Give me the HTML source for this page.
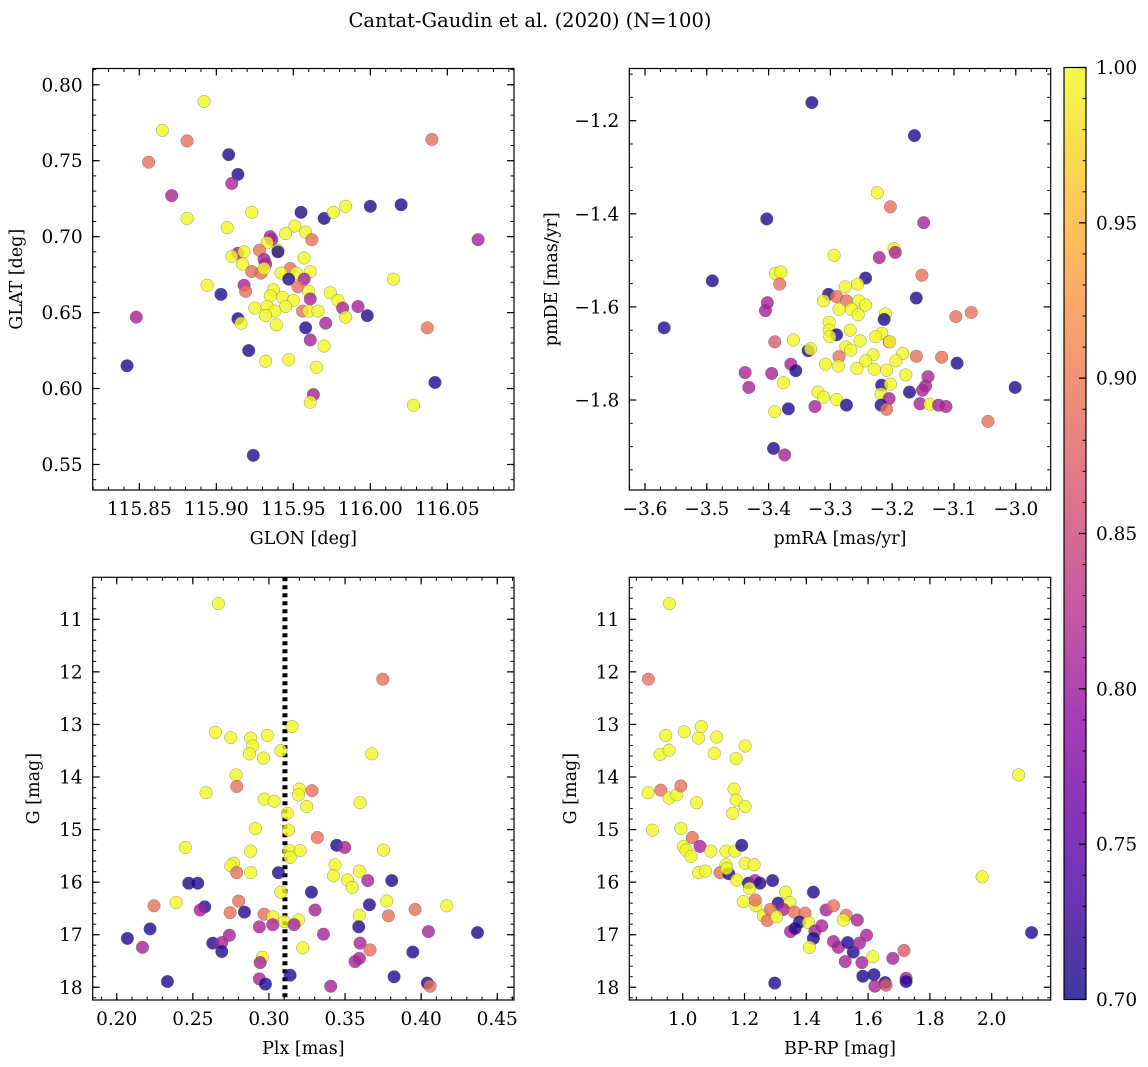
<!DOCTYPE html>
<html><head><meta charset="utf-8"><style>
html,body{margin:0;padding:0;background:#fff;}
svg{display:block;font-family:"DejaVu Serif","Liberation Serif",serif;}
</style></head><body>
<svg id="fig" width="1148" height="1067" viewBox="0 0 1148 1067" xmlns="http://www.w3.org/2000/svg">
<defs>
<linearGradient id="plasma" x1="0" y1="1" x2="0" y2="0">
<stop offset="0" stop-color="#0d0887"/><stop offset="0.1" stop-color="#41049d"/><stop offset="0.2" stop-color="#6a00a8"/><stop offset="0.3" stop-color="#8f0da4"/><stop offset="0.4" stop-color="#b12a90"/><stop offset="0.5" stop-color="#cc4778"/><stop offset="0.6" stop-color="#e16462"/><stop offset="0.7" stop-color="#f2844b"/><stop offset="0.8" stop-color="#fca636"/><stop offset="0.9" stop-color="#fcce25"/><stop offset="1" stop-color="#f0f921"/>
</linearGradient>
</defs>
<text x="530" y="27" font-size="19.5" text-anchor="middle">Cantat-Gaudin et al. (2020) (N=100)</text>
</svg>
<script>
// ---- Panel 1: GLON vs GLAT ----
const glon = [115.892,115.865,115.881,115.856,115.908,115.914,115.910,115.871,116.040,115.923,115.881,115.907,115.955,115.970,115.976,115.984,116.000,116.020,116.070,115.951,115.958,115.962,115.945,115.935,115.936,115.933,115.928,115.940,115.940,115.914,115.918,115.910,115.957,115.931,115.932,115.917,115.923,115.929,115.931,115.948,115.942,115.952,115.961,115.947,115.957,115.953,115.894,115.918,115.919,115.903,115.960,115.961,115.974,115.979,115.982,115.984,115.992,115.998,116.015,115.937,115.935,115.943,115.950,115.945,115.933,115.938,115.925,115.932,115.939,115.956,115.960,115.966,115.914,115.916,115.958,115.971,115.961,115.970,115.921,115.932,115.947,115.965,115.848,115.842,116.037,116.042,116.028,115.963,115.961,115.924];
const glat = [0.789,0.770,0.763,0.749,0.754,0.741,0.735,0.727,0.764,0.716,0.712,0.706,0.716,0.712,0.716,0.720,0.720,0.721,0.698,0.707,0.703,0.698,0.702,0.700,0.698,0.696,0.691,0.691,0.690,0.689,0.690,0.687,0.686,0.685,0.682,0.682,0.677,0.676,0.679,0.679,0.676,0.676,0.677,0.672,0.672,0.667,0.668,0.668,0.664,0.662,0.664,0.659,0.663,0.658,0.653,0.647,0.654,0.648,0.672,0.665,0.661,0.660,0.658,0.654,0.654,0.651,0.653,0.648,0.642,0.651,0.651,0.651,0.646,0.643,0.640,0.643,0.632,0.628,0.625,0.618,0.619,0.614,0.647,0.615,0.640,0.604,0.589,0.596,0.591,0.556];
const prob1 = [1,1,0.89,0.89,0.71,0.71,0.81,0.81,0.89,1,1,1,0.71,0.71,1,1,0.71,0.71,0.81,1,1,0.89,1,0.81,0.81,1,0.89,1,0.71,0.81,1,1,1,0.81,0.81,1,0.89,0.89,1,0.89,1,1,1,0.71,0.81,0.89,1,0.81,0.89,0.71,1,0.81,1,1,0.81,1,0.81,0.71,1,1,1,1,1,1,1,1,1,1,1,0.89,1,1,0.71,1,0.71,0.81,0.81,1,0.71,1,1,1,0.81,0.71,0.89,0.71,1,0.81,1,0.71];

// ---- Panel 2: pmRA vs pmDE ----
const pmra = [-3.330,-3.164,-3.224,-3.203,-3.149,-3.403,-3.197,-3.195,-3.221,-3.294,-3.152,-3.491,-3.389,-3.380,-3.382,-3.243,-3.256,-3.276,-3.161,-3.569,-3.402,-3.405,-3.303,-3.311,-3.290,-3.274,-3.254,-3.243,-3.286,-3.266,-3.255,-3.302,-3.302,-3.290,-3.301,-3.268,-3.252,-3.275,-3.267,-3.211,-3.213,-3.097,-3.072,-3.217,-3.227,-3.205,-3.204,-3.390,-3.360,-3.336,-3.332,-3.286,-3.231,-3.243,-3.183,-3.194,-3.161,-3.120,-3.095,-3.308,-3.287,-3.257,-3.229,-3.209,-3.178,-3.364,-3.356,-3.438,-3.395,-3.376,-3.432,-3.217,-3.203,-3.142,-3.146,-3.151,-3.001,-3.172,-3.320,-3.311,-3.290,-3.218,-3.205,-3.274,-3.218,-3.209,-3.325,-3.368,-3.390,-3.155,-3.139,-3.125,-3.113,-3.045,-3.392,-3.374];
const pmde = [-1.161,-1.232,-1.355,-1.385,-1.419,-1.411,-1.475,-1.483,-1.494,-1.489,-1.532,-1.544,-1.528,-1.525,-1.551,-1.538,-1.551,-1.557,-1.581,-1.645,-1.591,-1.608,-1.573,-1.587,-1.578,-1.587,-1.587,-1.596,-1.605,-1.605,-1.617,-1.633,-1.650,-1.660,-1.664,-1.650,-1.673,-1.686,-1.693,-1.615,-1.627,-1.621,-1.612,-1.657,-1.664,-1.675,-1.675,-1.675,-1.671,-1.694,-1.690,-1.707,-1.703,-1.716,-1.700,-1.716,-1.706,-1.708,-1.721,-1.723,-1.727,-1.732,-1.734,-1.736,-1.746,-1.723,-1.737,-1.741,-1.743,-1.763,-1.773,-1.768,-1.766,-1.750,-1.770,-1.779,-1.773,-1.783,-1.783,-1.794,-1.799,-1.787,-1.797,-1.811,-1.811,-1.820,-1.814,-1.819,-1.825,-1.808,-1.809,-1.811,-1.814,-1.846,-1.904,-1.918];
const prob2 = [0.71,0.71,1,0.89,0.81,0.71,1,0.81,0.81,1,0.89,0.71,1,1,0.89,0.71,1,1,0.71,0.71,0.81,0.81,0.71,1,0.89,0.89,1,1,1,1,1,1,1,0.71,1,1,1,1,1,1,0.71,0.89,0.89,1,1,0.89,1,0.87,1,0.71,1,0.89,1,1,1,1,0.89,0.89,0.71,1,1,1,1,1,1,0.81,0.71,0.81,0.81,1,0.81,0.71,1,0.81,0.81,0.81,0.71,0.71,1,1,1,1,0.81,0.71,0.71,0.89,0.81,0.71,1,0.81,1,0.81,0.81,0.89,0.71,0.81];

// ---- Panel 3: Plx vs G ----
const plx = [0.2668,0.3748,0.3152,0.2648,0.2749,0.2880,0.2990,0.2893,0.2872,0.2964,0.3078,0.3675,0.2784,0.2788,0.2587,0.3200,0.3194,0.3283,0.2968,0.3034,0.3248,0.3599,0.3121,0.3128,0.2911,0.3318,0.2451,0.2880,0.3134,0.3205,0.3139,0.3445,0.3498,0.3752,0.2767,0.2749,0.2788,0.2880,0.3062,0.3434,0.3424,0.3594,0.3516,0.3547,0.3649,0.3807,0.2473,0.2532,0.3078,0.3279,0.2390,0.2245,0.2578,0.2548,0.2801,0.2745,0.2839,0.2968,0.3025,0.3102,0.3194,0.3165,0.3025,0.2937,0.3660,0.3303,0.3774,0.3785,0.3960,0.4168,0.3594,0.3590,0.4048,0.4370,0.2219,0.2070,0.2169,0.2631,0.2690,0.2740,0.2690,0.3358,0.3599,0.3664,0.3222,0.3945,0.2957,0.2942,0.3566,0.3594,0.2333,0.2937,0.2977,0.3139,0.3406,0.3822,0.4041,0.4059];
const gmag3 = [10.70,12.14,13.04,13.15,13.25,13.26,13.21,13.41,13.56,13.64,13.50,13.56,13.96,14.18,14.30,14.23,14.34,14.26,14.42,14.46,14.56,14.49,14.69,15.01,14.98,15.15,15.34,15.41,15.40,15.40,15.53,15.30,15.34,15.39,15.64,15.69,15.82,15.82,15.82,15.67,15.88,15.79,15.96,16.10,15.97,15.97,16.02,16.02,16.19,16.19,16.39,16.45,16.47,16.53,16.36,16.58,16.57,16.61,16.66,16.75,16.72,16.81,16.81,16.85,16.43,16.53,16.36,16.64,16.52,16.45,16.63,16.85,16.94,16.96,16.89,17.07,17.24,17.16,17.15,17.01,17.32,16.99,17.16,17.29,17.25,17.33,17.43,17.53,17.51,17.45,17.89,17.84,17.94,17.77,17.98,17.80,17.92,17.98];
const prob3 = [1,0.89,1,1,1,1,1,1,1,1,1,1,1,0.89,1,1,1,0.89,1,1,1,1,1,1,1,0.89,1,1,1,1,1,0.71,0.81,1,1,1,0.89,1,0.71,1,1,1,1,1,0.81,0.71,0.71,0.71,1,0.71,1,0.89,0.71,0.81,0.89,0.89,0.71,0.89,1,1,1,0.81,0.81,0.81,0.71,0.81,1,0.89,0.89,1,1,0.71,0.81,0.71,0.71,0.71,0.81,0.71,0.81,0.81,0.71,0.81,0.81,0.89,1,0.71,1,0.81,0.81,0.81,0.71,0.81,0.71,0.71,0.81,0.71,0.71,0.89];

// ---- Panel 4: BP-RP vs G ----
const bprp = [0.957,0.889,0.945,0.927,0.956,1.005,1.051,1.060,1.110,1.102,1.173,1.202,2.087,0.888,0.929,0.956,0.981,0.994,1.045,1.166,1.173,1.202,1.162,0.902,0.994,1.031,1.056,1.002,1.011,1.027,1.091,1.140,1.169,1.191,1.202,1.231,1.140,1.121,1.149,1.142,1.051,1.074,1.969,1.175,1.213,1.234,1.250,1.291,1.216,1.423,1.333,1.196,1.237,1.235,1.309,1.347,1.261,1.274,1.283,1.326,1.361,1.396,1.304,1.378,1.407,1.349,1.364,1.428,1.423,1.450,1.464,1.488,1.529,1.520,1.565,1.595,1.410,1.488,1.504,1.534,1.552,1.572,1.526,1.580,1.615,1.680,1.716,1.583,1.619,1.655,1.622,1.658,1.723,1.723,1.298,2.129];
const gmag4 = [10.70,12.14,13.21,13.57,13.49,13.14,13.26,13.04,13.24,13.55,13.65,13.41,13.96,14.30,14.25,14.40,14.34,14.17,14.49,14.23,14.44,14.56,14.69,15.01,14.98,15.15,15.32,15.32,15.39,15.51,15.41,15.41,15.41,15.30,15.64,15.67,15.67,15.82,15.84,15.74,15.82,15.79,15.90,15.96,16.02,15.97,16.02,15.97,16.12,16.19,16.19,16.37,16.45,16.34,16.40,16.39,16.64,16.73,16.52,16.52,16.57,16.59,16.66,16.76,16.77,16.94,16.88,16.93,17.07,16.83,16.53,16.45,16.63,16.72,16.72,17.01,17.24,17.13,17.24,17.15,17.33,17.16,17.51,17.53,17.42,17.45,17.30,17.79,17.76,17.91,17.98,17.96,17.83,17.89,17.92,16.96];
const prob4 = [1,0.89,1,1,1,1,1,1,1,1,1,1,1,1,0.89,1,1,0.89,1,1,1,1,1,1,1,0.89,0.81,1,1,1,1,1,1,0.71,1,1,1,0.89,0.71,1,1,1,1,1,0.71,0.81,0.71,0.71,1,0.71,1,1,1,0.89,0.71,1,1,0.89,0.89,0.81,0.89,0.89,1,0.71,1,0.81,0.71,0.81,0.71,0.81,0.81,0.89,0.89,1,0.81,0.81,1,0.81,0.81,0.71,0.71,0.81,0.81,0.81,1,0.81,0.87,0.71,0.71,0.71,0.81,0.87,0.81,0.71,0.71,0.71];

const cbTicks = [0.70,0.75,0.80,0.85,0.90,0.95,1.00];

const NS = "http://www.w3.org/2000/svg";
const svg = document.getElementById('fig');
const stops = [[13,8,135],[65,4,157],[106,0,168],[143,13,164],[177,42,144],[204,71,120],[225,100,98],[242,132,75],[252,166,54],[252,206,37],[240,249,33]];
function plasma(p){
  let t = Math.max(0, Math.min(1, (p-0.7)/0.3)) * 10;
  const i = Math.min(9, Math.floor(t)), f = t - i;
  const a = stops[i], b = stops[i+1];
  return 'rgb(' + [0,1,2].map(k => Math.round(a[k]+(b[k]-a[k])*f)).join(',') + ')';
}
function el(tag, attrs, parent){
  const e = document.createElementNS(NS, tag);
  for (const k in attrs) e.setAttribute(k, attrs[k]);
  (parent || svg).appendChild(e);
  return e;
}
function fmt(v, d){ const s = Math.abs(v).toFixed(d); return (v < -1e-9 ? '\u2212' : '') + s; }
const TFS = 18.5;

function panel(cfg){
  const g = el('g', {});
  
  
  const {L,R,T,B} = cfg.box;
  const sx = v => L + (v - cfg.xd[0]) / (cfg.xd[1]-cfg.xd[0]) * (R-L);
  const sy = v => cfg.yinv ? T + (v - cfg.yd[0])/(cfg.yd[1]-cfg.yd[0])*(B-T)
                           : B - (v - cfg.yd[0])/(cfg.yd[1]-cfg.yd[0])*(B-T);
  const cid = 'clip-' + cfg.name;
  const cp = el('clipPath', {id: cid}, g);
  el('rect', {x:L, y:T, width:R-L, height:B-T}, cp);
  const pg = el('g', {'clip-path': 'url(#' + cid + ')'}, g);
  if (cfg.vline !== undefined) {
    const ln = el('line', {x1: sx(cfg.vline), x2: sx(cfg.vline), y1: T, y2: B, stroke:'#000', 'stroke-width':5, 'stroke-dasharray':'4 4'}, pg);
    
    
  }
  for (let i = 0; i < cfg.xs.length; i++) {
    const c = el('circle', {cx: sx(cfg.xs[i]), cy: sy(cfg.ys[i]), r: 6.3, fill: plasma(cfg.ps[i]), 'fill-opacity': 0.8, stroke:'#555', 'stroke-opacity':0.6, 'stroke-width':0.5}, pg);
    
    
  }
  el('rect', {x:L, y:T, width:R-L, height:B-T, fill:'none', stroke:'#000', 'stroke-width':1.2}, g);
  const eps = 1e-9;
  for (let v = cfg.xminor0; v <= cfg.xd[1]+eps; v += cfg.xminor) {
    const x = sx(v); if (x < L-0.5 || x > R+0.5) continue;
    el('line', {x1:x, x2:x, y1:B, y2:B-3.5, stroke:'#000', 'stroke-width':1}, g);
    el('line', {x1:x, x2:x, y1:T, y2:T+3.5, stroke:'#000', 'stroke-width':1}, g);
  }
  cfg.xticks.forEach(v => {
    const x = sx(v);
    el('line', {x1:x, x2:x, y1:B, y2:B-7, stroke:'#000', 'stroke-width':1.2}, g);
    el('line', {x1:x, x2:x, y1:T, y2:T+7, stroke:'#000', 'stroke-width':1.2}, g);
    const t = el('text', {x:x, y:B+25, 'font-size':TFS, 'text-anchor':'middle'}, g);
    t.textContent = fmt(v, cfg.xdec);
    
    
  });
  for (let v = cfg.yminor0; v <= cfg.yd[1]+eps; v += cfg.yminor) {
    const y = sy(v); if (y < T-0.5 || y > B+0.5) continue;
    el('line', {x1:L, x2:L+3.5, y1:y, y2:y, stroke:'#000', 'stroke-width':1}, g);
    el('line', {x1:R, x2:R-3.5, y1:y, y2:y, stroke:'#000', 'stroke-width':1}, g);
  }
  cfg.yticks.forEach(v => {
    const y = sy(v);
    el('line', {x1:L, x2:L+7, y1:y, y2:y, stroke:'#000', 'stroke-width':1.2}, g);
    el('line', {x1:R, x2:R-7, y1:y, y2:y, stroke:'#000', 'stroke-width':1.2}, g);
    const t = el('text', {x:L-10, y:y+6.5, 'font-size':TFS, 'text-anchor':'end'}, g);
    t.textContent = fmt(v, cfg.ydec);
    
    
  });
  const xt = el('text', {x:(L+R)/2, y:B+54, 'font-size':17.5, 'text-anchor':'middle'}, g);
  xt.textContent = cfg.xlabel;
  
  
  const yt = el('text', {x:0, y:0, 'font-size':17.5, 'text-anchor':'middle', transform:'translate(' + cfg.ylx + ',' + ((T+B)/2) + ') rotate(-90)'}, g);
  yt.textContent = cfg.ylabel;
  
  
}

panel({name:'panel-glon-glat', box:{L:92.7,R:514,T:68.5,B:490}, xd:[115.8197,116.0933], yd:[0.5332,0.8107],
  xs:glon, ys:glat, ps:prob1, xticks:[115.85,115.90,115.95,116.00,116.05], xdec:2, xminor0:115.82, xminor:0.01,
  yticks:[0.55,0.60,0.65,0.70,0.75,0.80], ydec:2, yminor0:0.54, yminor:0.01, xlabel:'GLON [deg]', ylabel:'GLAT [deg]', ylx:22});
panel({name:'panel-pmra-pmde', box:{L:629.3,R:1050.7,T:68.5,B:490}, xd:[-3.6254,-2.9435], yd:[-1.9933,-1.0879],
  xs:pmra, ys:pmde, ps:prob2, xticks:[-3.6,-3.5,-3.4,-3.3,-3.2,-3.1,-3.0], xdec:1, xminor0:-3.625, xminor:0.025,
  yticks:[-1.8,-1.6,-1.4,-1.2], ydec:1, yminor0:-1.95, yminor:0.05, xlabel:'pmRA [mas/yr]', ylabel:'pmDE [mas/yr]', ylx:557});
panel({name:'panel-plx-g', box:{L:92.7,R:514,T:577.3,B:1000}, xd:[0.1842,0.4610], yd:[10.201,18.242], yinv:true,
  xs:plx, ys:gmag3, ps:prob3, xticks:[0.20,0.25,0.30,0.35,0.40,0.45], xdec:2, xminor0:0.19, xminor:0.01,
  yticks:[11,12,13,14,15,16,17,18], ydec:0, yminor0:10.4, yminor:0.2, xlabel:'Plx [mas]', ylabel:'G [mag]', ylx:39, vline:0.3105});
panel({name:'panel-bprp-g', box:{L:629.3,R:1050.7,T:577.3,B:1000}, xd:[0.8272,2.1909], yd:[10.201,18.242], yinv:true,
  xs:bprp, ys:gmag4, ps:prob4, xticks:[1.0,1.2,1.4,1.6,1.8,2.0], xdec:1, xminor0:0.85, xminor:0.05,
  yticks:[11,12,13,14,15,16,17,18], ydec:0, yminor0:10.4, yminor:0.2, xlabel:'BP-RP [mag]', ylabel:'G [mag]', ylx:576});

const cb = el('g', {});


const cbT = 67.5, cbB = 999.5, cbL = 1064, cbR = 1086;
el('rect', {x:cbL, y:cbT, width:cbR-cbL, height:cbB-cbT, fill:'url(#plasma)', 'fill-opacity':0.8}, cb);
el('rect', {x:cbL, y:cbT, width:cbR-cbL, height:cbB-cbT, fill:'none', stroke:'#000', 'stroke-width':1.2}, cb);
const cy = v => cbB - (v-0.7)/0.3*(cbB-cbT);
for (let v = 0.71; v < 1.0; v += 0.01) {
  el('line', {x1:cbR, x2:cbR-3.5, y1:cy(v), y2:cy(v), stroke:'#000', 'stroke-width':1}, cb);
}
cbTicks.forEach(v => {
  el('line', {x1:cbR, x2:cbR-7, y1:cy(v), y2:cy(v), stroke:'#000', 'stroke-width':1.2}, cb);
  const t = el('text', {x:cbR+10, y:cy(v)+6.5, 'font-size':TFS}, cb);
  t.textContent = v.toFixed(2);
  
  
});
</script>
</body></html>
